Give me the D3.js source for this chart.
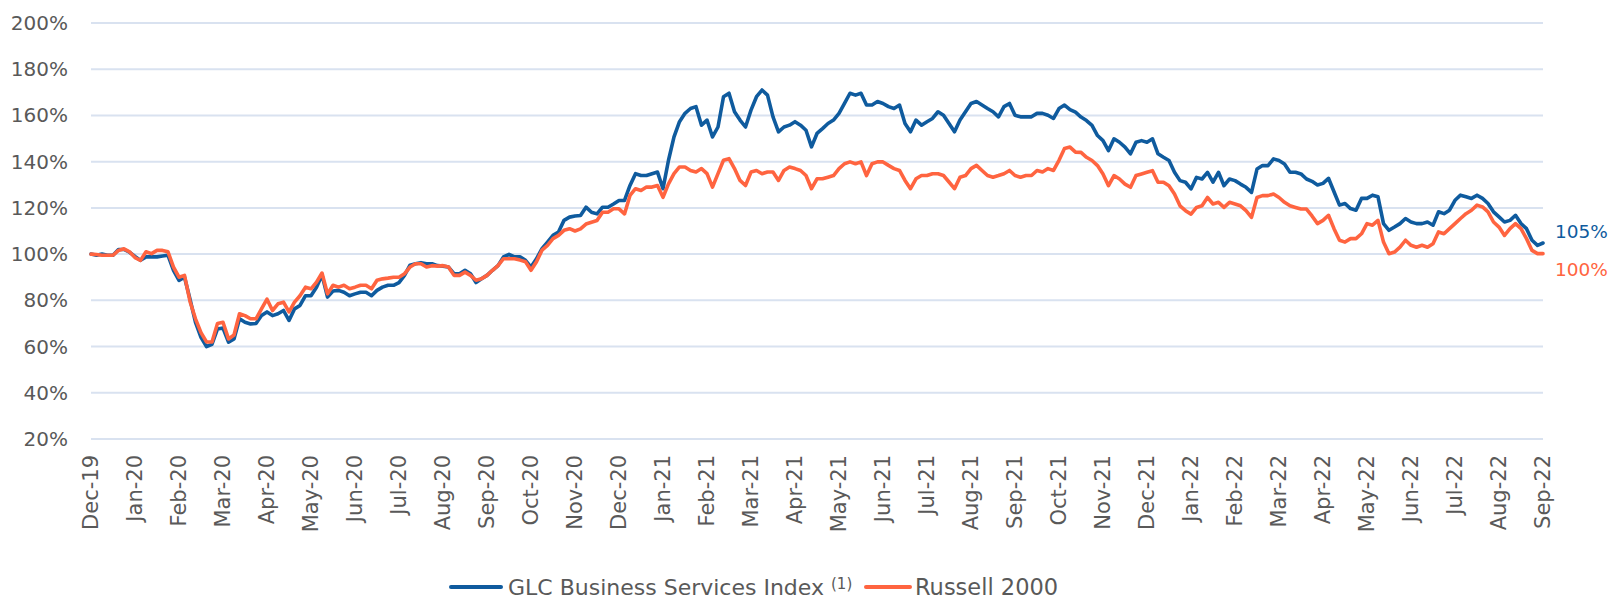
<!DOCTYPE html>
<html>
<head>
<meta charset="utf-8">
<script src="https://cdn.jsdelivr.net/npm/d3@7"></script>
<style>
  body { margin: 0; background: #fff; }
  text { font-family: "DejaVu Sans", sans-serif; fill: #595959; }
</style>
</head>
<body>
<div id="chart"></div>
<script>
// month labels on the x axis
const months = ["Dec-19","Jan-20","Feb-20","Mar-20","Apr-20","May-20","Jun-20","Jul-20","Aug-20","Sep-20","Oct-20","Nov-20","Dec-20",
  "Jan-21","Feb-21","Mar-21","Apr-21","May-21","Jun-21","Jul-21","Aug-21","Sep-21","Oct-21","Nov-21","Dec-21",
  "Jan-22","Feb-22","Mar-22","Apr-22","May-22","Jun-22","Jul-22","Aug-22","Sep-22"];

const yTicks = [20, 40, 60, 80, 100, 120, 140, 160, 180, 200];

// readings every 1/8 month, in % of start value
const step = 0.125;

const glc = [
  100,99.5, 100,99.5, 99.5,102, 102,100.8, 99,97.3, 98.8,98.8, 98.8,99.2, 99.5,93, 88.6,90, 80.5,70.5,
  64,60, 61,67.6, 68,61.9, 63.3,72, 70.5,69.8, 70,73.4, 75,73.4, 74.2,75.6, 71.3,76.3, 77.8,82,
  82,85.7, 91,81.4, 84,84.3, 83.5,82, 82.8,83.5, 83.5,82, 84.3,85.7, 86.5,86.5, 87.7,90.8, 95.2,95.8,
  96.3,95.8, 95.8,95, 94.8,94.4, 91.5,91.5, 93,91.5, 87.7,89.3, 90.8,93, 95,98.8, 99.9,98.8, 98.8,97.3,
  94.4,98, 102.4,105.2, 108.1,109.6, 114.6,116, 116.5,116.7, 120.3,118.1, 117.4,120.3, 120.3,121.7, 123.2,123.2, 129.7,134.8,
  134,134, 134.8,135.5, 128.3,140.6, 150.7,157.3, 160.9,163, 163.8,155.8, 158,150.7, 155,168.1, 169.6,161.6, 158,155,
  162.3,168.1, 171,168.8, 159.4,152.9, 155,155.8, 157.3,155.8, 153.6,146.4, 152.2,154.3, 156.5,158, 160.9,165.2, 169.6,168.8,
  169.6,164.5, 164.5,166, 165.2,163.8, 163,164.5, 156.5,152.9, 158,155.8, 157.3,158.7, 161.6,160.1, 156.5,152.9, 158,161.6,
  165.2,166, 164.5,163, 161.6,159.4, 163.8,165.2, 160.1,159.4, 159.4,159.4, 160.9,160.9, 160.1,158.7, 163,164.5, 162.5,161.4,
  159.3,157.8, 155.7,151.3, 149.1,144.8, 149.9,148.4, 146.3,143.4, 148.4,149.1, 148.4,149.9, 143.4,141.9, 140.5,135.4, 131.8,131.1,
  128.2,133.2, 132.5,135.4, 131.1,135.4, 129.6,132.5, 131.8,130.3, 128.9,126.7, 136.8,138.3, 138.3,141.2, 140.5,139, 135.4,135.4,
  134.7,132.5, 131.5,129.9, 130.6,132.8, 127,121.2, 121.9,119.7, 119,124.1, 124.1,125.5, 124.8,113.2, 110.3,111.7, 113.2,115.4,
  113.9,113.2, 113.2,113.9, 112.5,118.3, 117.5,119, 123.3,125.5, 124.8,124.1, 125.5,124.1, 121.9,118.3, 116.1,113.9, 114.6,116.8,
  113.2,111, 106,103.8, 104.8];

const russell = [
  100,99.8, 99.5,99.5, 99.5,101.6, 102.3,101, 98.5,97.3, 101,100.2, 101.6,101.6, 101,94.4, 90,90.8, 79.5,72,
  66,62, 62,70, 70.5,63.3, 65,74.2, 73.4,72, 72,76.3, 80.5,75.6, 78.5,79.2, 75,79.2, 82,85.7,
  85,87.9, 91.8,82.8, 86.5,85.7, 86.5,85, 85.7,86.5, 86.5,85, 88.7,89.3, 89.6,90, 90,91.5, 94.4,95.8,
  95.8,94.4, 95,94.8, 95,94.4, 90.8,90.8, 92.2,90.8, 88.7,89.3, 90.8,93, 95,98, 98,98, 97.4,96.7,
  93,96.7, 101.7,103.8, 106.7,108.1, 110.3,111, 110,110.9, 113,113.8, 114.5,118.1, 118.1,119.6, 119.6,117.4, 125.4,128.3,
  127.5,129, 129,129.7, 124.6,130.4, 134.8,137.7, 137.7,136.2, 135.5,137, 134.8,129, 134.8,140.6, 141.3,137, 131.9,129.7,
  135.5,136.2, 134.8,135.5, 135.5,131.9, 136.2,137.7, 137,136.2, 134,128.3, 132.6,132.6, 133.3,134, 137,139.1, 139.9,139.1,
  139.9,134, 139.1,139.9, 139.9,138.4, 137,136.2, 131.9,128.3, 132.6,134, 134,134.8, 134.8,134, 131.2,128.3, 133.3,134,
  137,138.4, 136.2,134, 133.3,134, 134.8,136.2, 134,133.3, 134,134, 136.2,135.5, 137,136.2, 140.6,145.7, 146.3,144.1,
  144,141.9, 140.5,138.3, 134.7,129.6, 134,132.5, 130.3,128.9, 134,134.7, 135.4,136.1, 131.1,131.1, 129.6,126, 120.9,118.8,
  117.3,120.2, 120.9,124.5, 121.7,122.4, 120.2,122.4, 121.7,120.9, 118.8,115.9, 124.5,125.3, 125.3,126, 124.5,122.4, 120.9,120.2,
  119.5,119.5, 116.5,113.2, 114.6,116.8, 111,106, 105.2,106.7, 106.7,108.8, 113.2,112.5, 114.6,105.2, 100.2,100.9, 103,106,
  103.8,103, 103.8,103, 104.5,109.6, 108.8,111, 113.2,115.4, 117.5,119, 121.2,120.4, 118.3,113.9, 111.7,108.1, 111,113.2,
  111,106.7, 101.6,100.2, 100.2];

const seriesNames = ["GLC Business Services Index", "Russell 2000"];
const colors = ["#0F5B9E", "#FF6440"];

const W = 1609, H = 601;
const margin = {top: 23, right: 66, bottom: 162, left: 91};

const svg = d3.select("#chart").append("svg")
  .attr("width", W)
  .attr("height", H);

const x = d3.scaleLinear().domain([0, months.length - 1]).range([margin.left, W - margin.right]);
const y = d3.scaleLinear().domain([20, 200]).range([H - margin.bottom, margin.top]);

// gridlines
svg.append("g")
  .selectAll("line")
  .data(yTicks)
  .enter()
  .append("line")
  .attr("x1", x(0))
  .attr("x2", x(months.length - 1))
  .attr("y1", d => y(d))
  .attr("y2", d => y(d))
  .attr("stroke", "#D9E2F0")
  .attr("stroke-width", 2);

// y labels
svg.append("g")
  .selectAll("text")
  .data(yTicks)
  .enter()
  .append("text")
  .attr("x", margin.left - 23)
  .attr("y", d => y(d))
  .attr("dy", "0.35em")
  .attr("text-anchor", "end")
  .style("font-size", "20px")
  .text(d => d + "%");

// x labels, rotated
svg.append("g")
  .selectAll("text")
  .data(months)
  .enter()
  .append("text")
  .attr("transform", (d, i) => `translate(${x(i)},${H - margin.bottom + 16}) rotate(-90)`)
  .attr("dy", "0.35em")
  .attr("text-anchor", "end")
  .style("font-size", "21px")
  .text(d => d);

const line = d3.line()
  .x((d, i) => x(i * step))
  .y(d => y(d));

// blue drawn first, orange on top
[glc, russell].forEach((s, k) => {
  svg.append("path")
    .datum(s)
    .attr("d", line)
    .attr("fill", "none")
    .attr("stroke", colors[k])
    .attr("stroke-width", 3.6)
    .attr("stroke-linejoin", "round")
    .attr("stroke-linecap", "round");
});

// end labels
const xEnd = x(months.length - 1) + 12;
svg.append("text")
  .attr("x", xEnd)
  .attr("y", y(glc[glc.length - 1]) - 11)
  .attr("dy", "0.35em")
  .style("font-size", "18.5px")
  .style("fill", colors[0])
  .text(Math.round(glc[glc.length - 1]) + "%");

svg.append("text")
  .attr("x", xEnd)
  .attr("y", y(russell[russell.length - 1]) + 16)
  .attr("dy", "0.35em")
  .style("font-size", "18.5px")
  .style("fill", colors[1])
  .text(Math.round(russell[russell.length - 1]) + "%");

// legend
const legend = svg.append("g").attr("transform", "translate(451,587)");

legend.append("line")
  .attr("x1", 0).attr("x2", 50)
  .attr("stroke", colors[0]).attr("stroke-width", 4).attr("stroke-linecap", "round");
const t1 = legend.append("text")
  .attr("x", 57)
  .attr("dy", "0.35em")
  .style("font-size", "22px");
t1.append("tspan").text(seriesNames[0] + " ");
t1.append("tspan").attr("dy", "-0.4em").style("font-size", "15px").text("(1)");

legend.append("line")
  .attr("x1", 415).attr("x2", 459)
  .attr("stroke", colors[1]).attr("stroke-width", 4).attr("stroke-linecap", "round");
legend.append("text")
  .attr("x", 464)
  .attr("dy", "0.35em")
  .style("font-size", "22.5px")
  .text(seriesNames[1]);
</script>
</body>
</html>
